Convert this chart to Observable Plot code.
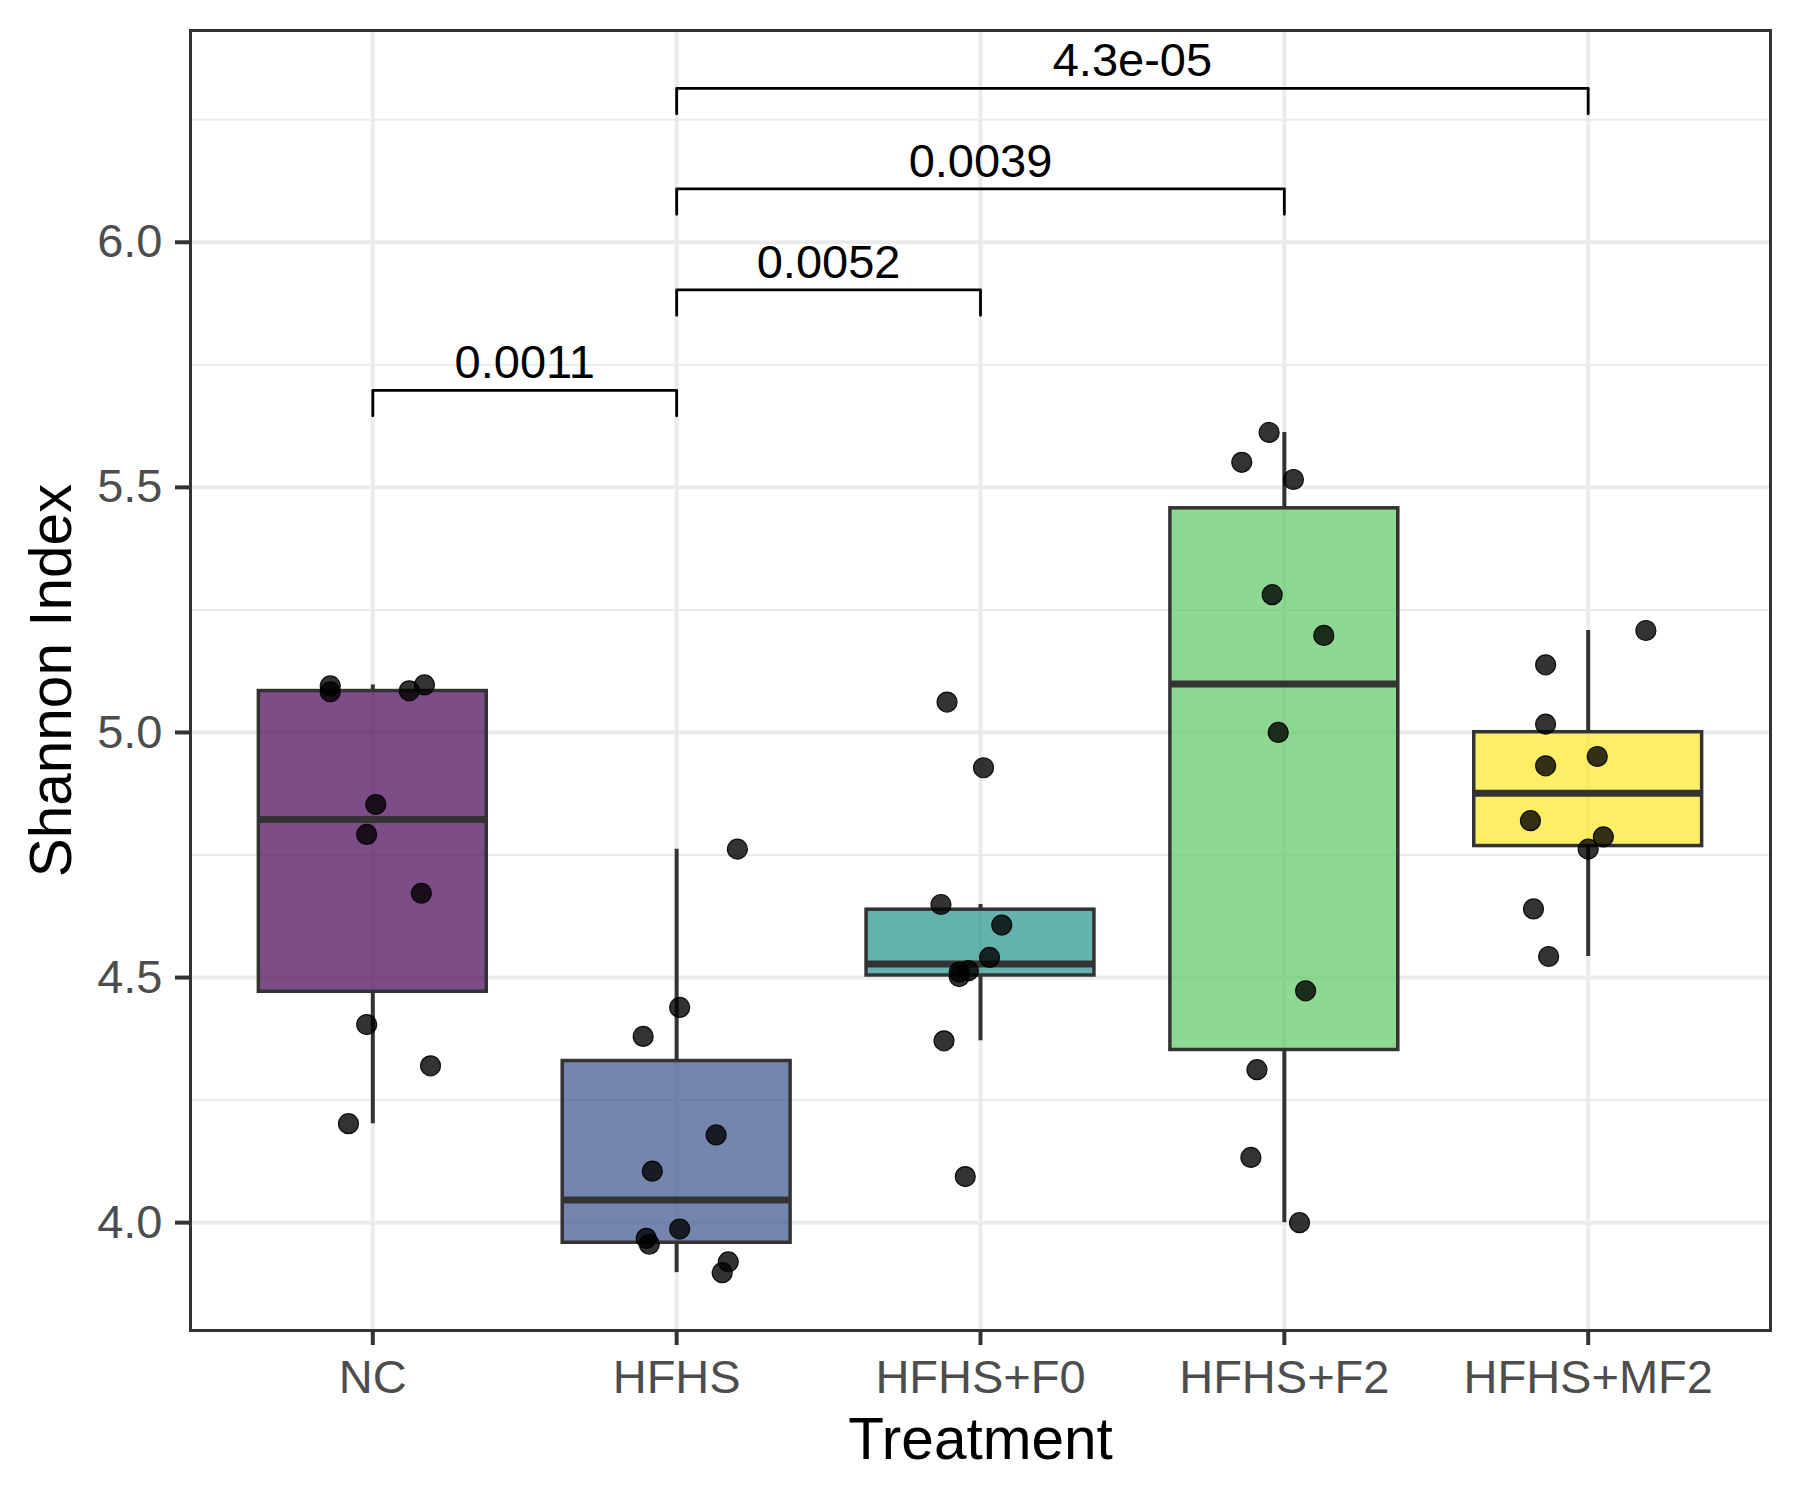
<!DOCTYPE html>
<html>
<head>
<meta charset="utf-8">
<script src="https://cdn.jsdelivr.net/npm/d3@7"></script>
<script src="https://cdn.jsdelivr.net/npm/@observablehq/plot@0.6"></script>
<style>
  html, body { margin: 0; padding: 0; background: #ffffff; }
  #chart { width: 1800px; height: 1500px; }
</style>
</head>
<body>
<div id="chart"></div>
<script>
// Treatment groups and their fill colours (viridis, 5 steps)
const groups = ["NC", "HFHS", "HFHS+F0", "HFHS+F2", "HFHS+MF2"];
const groupColors = ["#440154", "#3b528b", "#21918c", "#5ec962", "#fde725"];

// Shannon index per sample, with the horizontal jitter offset of each sample (in group units)
const ncShannon   = [5.095, 5.083, 5.085, 5.097, 4.853, 4.792, 4.672, 4.404, 4.320, 4.202];
const ncJitter    = [-0.14, -0.14, 0.12, 0.17, 0.01, -0.02, 0.16, -0.02, 0.19, -0.08];
const hfhsShannon = [4.762, 4.439, 4.380, 4.179, 4.105, 3.987, 3.968, 3.956, 3.920, 3.898];
const hfhsJitter  = [0.20, 0.01, -0.11, 0.13, -0.08, 0.01, -0.10, -0.09, 0.17, 0.15];
const f0Shannon   = [5.062, 4.928, 4.649, 4.607, 4.541, 4.514, 4.511, 4.502, 4.371, 4.094];
const f0Jitter    = [-0.11, 0.01, -0.13, 0.07, 0.03, -0.04, -0.07, -0.07, -0.12, -0.05];
const f2Shannon   = [5.612, 5.551, 5.516, 5.281, 5.198, 5.000, 4.473, 4.312, 4.133, 4.000];
const f2Jitter    = [-0.05, -0.14, 0.03, -0.04, 0.13, -0.02, 0.07, -0.09, -0.11, 0.05];
const mf2Shannon  = [5.208, 5.138, 5.017, 4.951, 4.932, 4.820, 4.787, 4.762, 4.640, 4.543];
const mf2Jitter   = [0.19, -0.14, -0.14, 0.03, -0.14, -0.19, 0.05, 0.00, -0.18, -0.13];

// Pairwise comparisons: groups compared, p-value label and bracket height
const comparisonFrom = ["NC", "HFHS", "HFHS", "HFHS"];
const comparisonTo   = ["HFHS", "HFHS+F0", "HFHS+F2", "HFHS+MF2"];
const comparisonP    = ["0.0011", "0.0052", "0.0039", "4.3e-05"];
const comparisonY    = [5.698, 5.903, 6.109, 6.314];
const bracketTip = 0.052;

// Axis ticks
const yTicks = [4.0, 4.5, 5.0, 5.5, 6.0];
const yMinorTicks = [4.25, 4.75, 5.25, 5.75, 6.25];

const shannonByGroup = [ncShannon, hfhsShannon, f0Shannon, f2Shannon, mf2Shannon];
const jitterByGroup = [ncJitter, hfhsJitter, f0Jitter, f2Jitter, mf2Jitter];

// One row per sample
const samples = shannonByGroup.flatMap((vals, gi) =>
  vals.map((v, j) => ({group: groups[gi], pos: gi + 1, x: gi + 1 + jitterByGroup[gi][j], value: v}))
);

// Tukey box statistics (type-7 quantiles, whiskers to 1.5 IQR)
const boxes = shannonByGroup.map((vals, gi) => {
  const s = vals.slice().sort(d3.ascending);
  const q1 = d3.quantile(s, 0.25), med = d3.quantile(s, 0.5), q3 = d3.quantile(s, 0.75);
  const iqr = q3 - q1;
  const lo = d3.min(s.filter(v => v >= q1 - 1.5 * iqr));
  const hi = d3.max(s.filter(v => v <= q3 + 1.5 * iqr));
  return {group: groups[gi], pos: gi + 1, q1, med, q3, lo, hi, color: groupColors[gi]};
});

const halfBox = 0.375;

// Bracket paths for the significance annotations
const brackets = comparisonFrom.flatMap((a, k) => {
  const x1 = groups.indexOf(a) + 1, x2 = groups.indexOf(comparisonTo[k]) + 1, y = comparisonY[k];
  return [
    {k, x: x1, y: y - bracketTip},
    {k, x: x1, y},
    {k, x: x2, y},
    {k, x: x2, y: y - bracketTip}
  ];
});
const bracketLabels = comparisonFrom.map((a, k) => ({
  x: (groups.indexOf(a) + 1 + groups.indexOf(comparisonTo[k]) + 1) / 2,
  y: comparisonY[k],
  label: comparisonP[k]
}));

const chart = Plot.plot({
  width: 1800,
  height: 1500,
  marginLeft: 190,
  marginRight: 30,
  marginTop: 30,
  marginBottom: 170,
  style: {fontFamily: "'Liberation Sans', Arial, Helvetica, sans-serif", background: "#ffffff", color: "#000"},
  x: {domain: [0.4, 5.6], axis: null},
  y: {domain: [3.78, 6.432], axis: null},
  marks: [
    // panel grid
    Plot.gridY(yMinorTicks, {stroke: "#ebebeb", strokeOpacity: 1, strokeWidth: 2}),
    Plot.gridY(yTicks, {stroke: "#ebebeb", strokeOpacity: 1, strokeWidth: 4}),
    Plot.gridX([1, 2, 3, 4, 5], {stroke: "#ebebeb", strokeOpacity: 1, strokeWidth: 4}),

    // whiskers
    Plot.ruleX(boxes, {x: "pos", y1: "q3", y2: "hi", stroke: "#333333", strokeWidth: 4}),
    Plot.ruleX(boxes, {x: "pos", y1: "lo", y2: "q1", stroke: "#333333", strokeWidth: 4}),
    // boxes
    Plot.rect(boxes, {
      x1: d => d.pos - halfBox, x2: d => d.pos + halfBox, y1: "q1", y2: "q3",
      fill: d => d.color, fillOpacity: 0.7, stroke: "#333333", strokeWidth: 3.5
    }),
    // medians
    Plot.ruleY(boxes, {
      y: "med", x1: d => d.pos - halfBox, x2: d => d.pos + halfBox,
      stroke: "#333333", strokeWidth: 7
    }),

    // jittered samples
    Plot.dot(samples, {x: "x", y: "value", r: 10, fill: "#000", fillOpacity: 0.8, stroke: "#000", strokeWidth: 1.2, strokeOpacity: 0.9}),

    // significance brackets
    Plot.line(brackets, {x: "x", y: "y", z: "k", stroke: "#000", strokeWidth: 2.8, curve: "linear"}),
    Plot.text(bracketLabels, {x: "x", y: "y", text: "label", fontSize: 47, fill: "#000", lineAnchor: "bottom", dy: -12}),

    // axes
    Plot.axisY(yTicks, {
      tickFormat: d3.format(".1f"), tickSize: 15, tickPadding: 13, fontSize: 47,
      fill: "#4d4d4d", stroke: "#333333", strokeWidth: 4, label: null
    }),
    Plot.axisX([1, 2, 3, 4, 5], {
      tickFormat: d => groups[d - 1], tickSize: 15, tickPadding: 14, fontSize: 47,
      fill: "#4d4d4d", stroke: "#333333", strokeWidth: 4, label: null
    }),
    Plot.frame({stroke: "#333333", strokeWidth: 3}),

    // axis titles
    Plot.text(["Treatment"], {frameAnchor: "bottom", dy: 110, fontSize: 58.5, fill: "#000", textAnchor: "middle", lineAnchor: "middle"}),
    Plot.text(["Shannon Index"], {frameAnchor: "left", dx: -138, rotate: -90, fontSize: 58.5, fill: "#000", textAnchor: "middle", lineAnchor: "middle"})
  ]
});

document.getElementById("chart").appendChild(chart);
</script>
</body>
</html>
